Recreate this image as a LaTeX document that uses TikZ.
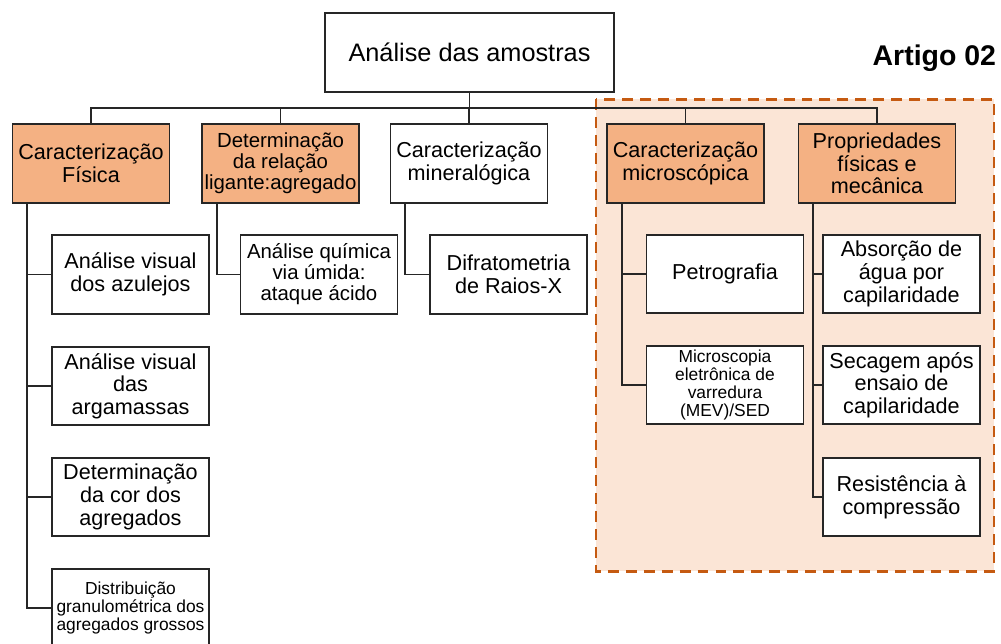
\documentclass[tikz,border=0pt]{standalone}
\usepackage{fontspec}
\setmainfont{Liberation Sans}
\definecolor{laranja}{HTML}{F4B183}
\definecolor{fundo}{HTML}{FBE5D6}
\definecolor{borda}{HTML}{C55A11}
\definecolor{linha}{HTML}{262626}

\begin{document}
\begin{tikzpicture}[line width=1.1pt]
\tikzstyle{caixa}=[rectangle,draw=linha,fill=white,minimum width=3.14cm,minimum height=1.57cm,align=center,inner sep=1pt,font=\fontsize{12.3}{12.9}\selectfont]
\tikzstyle{destaque}=[caixa,fill=laranja]
\tikzstyle{menor}=[font=\fontsize{11.6}{11.9}\selectfont]
\tikzstyle{mini}=[font=\fontsize{9.9}{10.3}\selectfont]
\tikzstyle{ramo}=[draw=linha]
\useasboundingbox (0,0) rectangle (20.02,-12.86);
\clip (0,0) rectangle (20.02,-12.86);

\draw[borda,fill=fundo,line width=1.7pt,dash pattern=on 6.2pt off 4pt] (11.92,-1.98) rectangle (19.88,-11.42);
\node[anchor=east,inner sep=0pt,font=\fontsize{16.2}{18}\selectfont\bfseries](artigo) at (19.94,-1.17) {Artigo 02};

\node[caixa,minimum width=5.78cm,minimum height=1.58cm,font=\fontsize{14.4}{15}\selectfont](raiz) at (9.39,-1.05) {Análise das amostras};
\coordinate (barra) at (9.39,-2.16);

\node[destaque](fis) at (1.82,-3.27) {Caracterização\\Física};
\node[destaque,menor](lig) at (5.61,-3.27) {Determinação\\da relação\\ligante:agregado};
\node[caixa](min) at (9.38,-3.27) {Caracterização\\mineralógica};
\node[destaque](mic) at (13.71,-3.27) {Caracterização\\microscópica};
\node[destaque](pro) at (17.54,-3.27) {Propriedades\\físicas e\\mecânica};

\node[caixa](fis1) at (2.61,-5.49) {Análise visual\\dos azulejos};
\node[caixa](fis2) at (2.61,-7.72) {Análise visual\\das\\argamassas};
\node[caixa](fis3) at (2.61,-9.94) {Determinação\\da cor dos\\agregados};
\node[caixa,mini](fis4) at (2.61,-12.16) {Distribuição\\granulométrica dos\\agregados grossos};

\node[caixa,menor](lig1) at (6.38,-5.49) {Análise química\\via úmida:\\ataque ácido};
\node[caixa](min1) at (10.17,-5.49) {Difratometria\\de Raios-X};

\node[caixa](mic1) at (14.5,-5.48) {Petrografia};
\node[caixa,mini](mic2) at (14.5,-7.7) {Microscopia\\eletrônica de\\varredura\\(MEV)/SED};

\node[caixa](pro1) at (18.03,-5.48) {Absorção de\\água por\\capilaridade};
\node[caixa](pro2) at (18.03,-7.7) {Secagem após\\ensaio de\\capilaridade};
\node[caixa](pro3) at (18.03,-9.94) {Resistência à\\compressão};

\draw[ramo] (raiz.south) -- (barra);
\draw[ramo] (fis.north) |- (barra) -| (pro.north);
\foreach \n in {lig,min,mic}
  \draw[ramo] (\n.north) -- (\n.north |- barra);

\foreach \c in {fis1,fis2,fis3,fis4}
  \draw[ramo] ([xshift=0.31cm]fis.south west) |- (\c.west);
\draw[ramo] ([xshift=0.31cm]lig.south west) |- (lig1.west);
\draw[ramo] ([xshift=0.31cm]min.south west) |- (min1.west);
\foreach \c in {mic1,mic2}
  \draw[ramo] ([xshift=0.31cm]mic.south west) |- (\c.west);
\foreach \c in {pro1,pro2,pro3}
  \draw[ramo] ([xshift=0.31cm]pro.south west) |- (\c.west);
\end{tikzpicture}
\end{document}
